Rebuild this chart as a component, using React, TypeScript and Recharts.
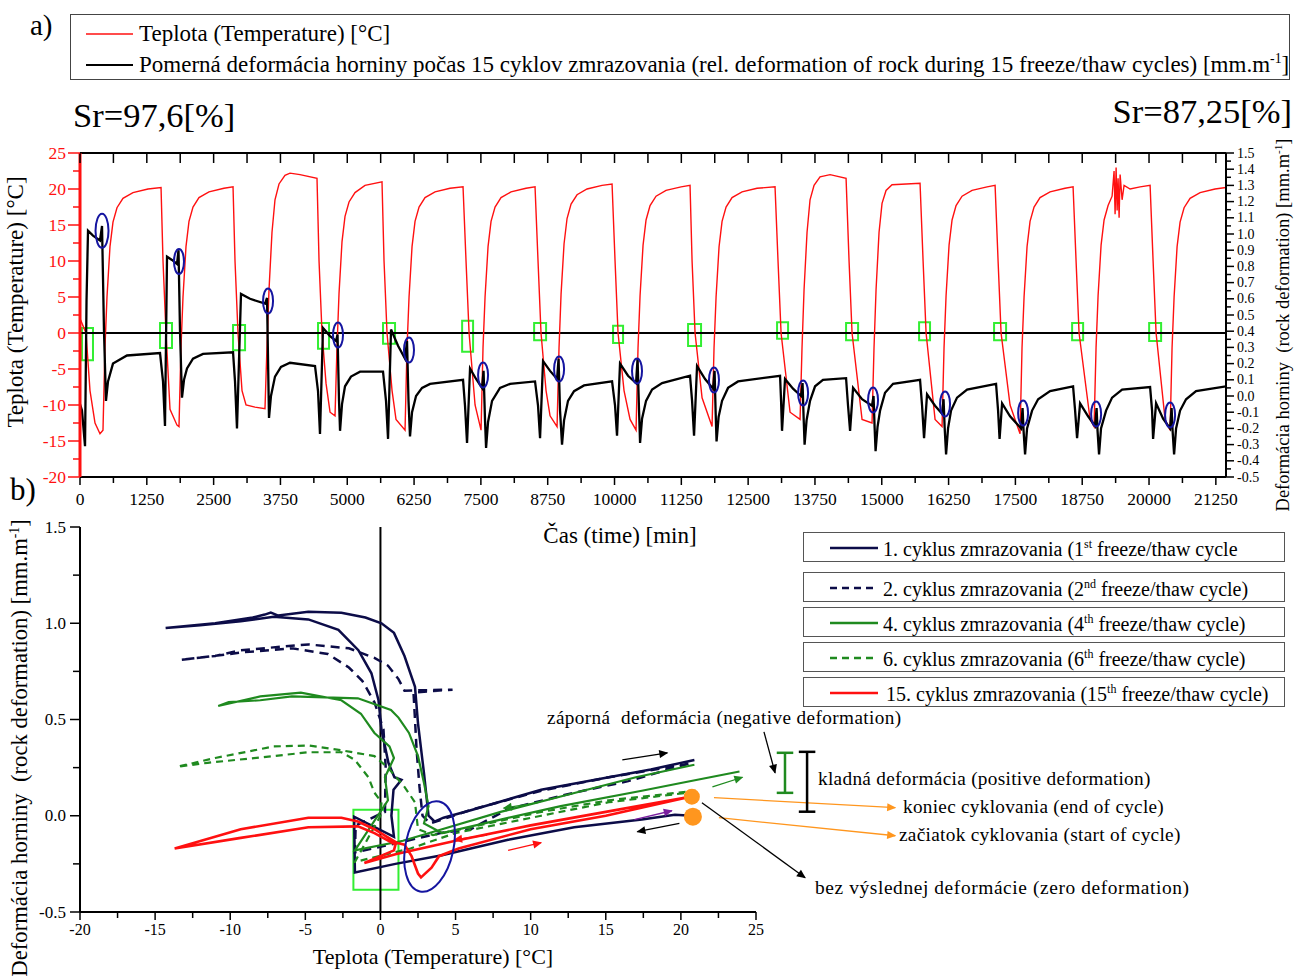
import React from 'react';
import { LineChart, Line, XAxis, YAxis, ReferenceLine, ReferenceArea, ReferenceDot } from 'recharts';

const FONT = '"Liberation Serif", "Times New Roman", Times, serif';
const NAVY = '#0c0c48';
const GREEN = '#1f8a1f';
const RED = '#ff1010';
const LIME = '#33ee33';
const BLUE = '#1515a0';
const ORANGE = '#ff961e';

// ---------- (a) time series ----------
const timeTicks = [0,625,1250,1875,2500,3125,3750,4375,5000,5625,6250,6875,7500,8125,8750,9375,10000,10625,11250,11875,12500,13125,13750,14375,15000,15625,16250,16875,17500,18125,18750,19375,20000,20625,21250];
const tempTicks = [-20,-17.5,-15,-12.5,-10,-7.5,-5,-2.5,0,2.5,5,7.5,10,12.5,15,17.5,20,22.5,25];
const deformTicks = [-0.5,-0.45,-0.4,-0.35,-0.3,-0.25,-0.2,-0.15,-0.1,-0.05,0,0.05,0.1,0.15,0.2,0.25,0.3,0.35,0.4,0.45,0.5,0.55,0.6,0.65,0.7,0.75,0.8,0.85,0.9,0.95,1,1.05,1.1,1.15,1.2,1.25,1.3,1.35,1.4,1.45,1.5];

const temperature: [number, number][] = [
  [0,2],[112,0],[187,-8],[281,-12.5],[374,-14],[430,-13.5],
  [467,-2],[505,5],[561,12],[617,15.4],[692,17.4],[804,18.7],[991,19.5],[1272,20.0],[1516,20.2],
  [1553,10],[1609,0],[1684,-10.6],[1815,-12.8],[1852,-13],
  [1889,-2],[1927,5],[1983,12],[2039,15.5],[2114,17.5],[2226,18.8],[2413,19.6],[2694,20.1],[2863,20.3],
  [2900,10],[2956,0],[3031,-8],[3106,-10],[3274,-10.3],[3461,-10.5],
  [3498,-2],[3536,6],[3592,14],[3648,18.5],[3723,20.7],[3835,21.9],[3929,22.2],[4116,22],[4434,21.5],
  [4472,10],[4528,0],[4603,-7],[4678,-11],[4771,-11.5],
  [4808,-2],[4846,5.5],[4902,12.7],[4958,16.2],[5033,18.2],[5145,19.5],[5332,20.5],[5650,21],
  [5688,10],[5744,0],[5838,-8],[5912,-12],[6081,-13.5],
  [6118,-2],[6156,5],[6212,12],[6268,15.5],[6343,17.5],[6455,18.8],[6642,19.6],[6923,20.1],[7166,20.3],
  [7222,10],[7279,0],[7391,-10],[7503,-13.5],
  [7540,-2],[7578,5],[7634,12],[7690,15.5],[7765,17.5],[7877,18.8],[8064,19.6],[8345,20.1],[8513,20.3],
  [8569,10],[8625,0],[8719,-8],[8794,-11.5],[8925,-13],
  [8962,-2],[9000,5.4],[9056,12.4],[9112,15.9],[9187,17.9],[9299,19.2],[9486,20],[9767,20.5],[9954,20.7],
  [10010,10],[10066,0],[10178,-8],[10291,-12],[10403,-13.5],
  [10440,-2],[10478,5.2],[10534,12.2],[10590,15.7],[10665,17.7],[10777,19],[10964,19.8],[11245,20.3],[11413,20.5],
  [11451,10],[11507,0],[11638,-9],[11825,-13],
  [11862,-2],[11900,5],[11956,12],[12012,15.5],[12087,17.5],[12199,18.8],[12386,19.6],[12667,20.1],[13003,20.3],
  [13059,10],[13116,0],[13284,-11],[13471,-12],
  [13508,-2],[13546,6],[13602,14],[13658,18.5],[13733,20.5],[13845,21.7],[14033,22],[14332,21.5],
  [14388,10],[14444,0],[14631,-12],[14818,-12.5],
  [14855,-2],[14893,6],[14949,14],[15005,18],[15080,19.8],[15192,20.6],[15716,20.8],
  [15773,10],[15829,0],[15997,-12],[16128,-13],
  [16165,-2],[16203,5.2],[16259,12.2],[16315,15.7],[16390,17.7],[16502,19],[16689,19.8],[16970,20.3],[17120,20.5],
  [17176,10],[17232,0],[17400,-10],[17587,-14],
  [17624,-2],[17662,5],[17718,12],[17774,15.5],[17849,17.5],[17961,18.8],[18148,19.6],[18429,20.1],[18579,20.3],
  [18635,10],[18691,0],[18897,-12],[18972,-13],
  [19009,-2],[19047,5.2],[19103,12.2],[19159,15.7],[19234,17.7],[19309,19],[19346,22.5],[19365,16.5],[19384,23],[19403,17],[19421,21.5],[19440,16],[19459,22],[19496,18.5],[19533,20.5],[19646,20],[19833,20.3],[20020,20.5],
  [20076,10],[20132,0],[20300,-12],[20394,-13.5],
  [20431,-2],[20469,5],[20525,12],[20581,15.4],[20656,17.4],[20768,18.7],[20955,19.5],[21236,20],[21440,20.2],
];

const deformation: [number, number][] = [
  [0,-0.05],[37,-0.09],[94,-0.31],[122,0.59],[150,1.02],[243,0.99],[374,0.96],[412,1.05],[449,0.4],[486,-0.03],[524,0.09],[617,0.2],[879,0.25],[1497,0.265],
  [1553,0.09],[1590,-0.185],[1628,0.86],[1721,0.84],[1815,0.815],[1843,0.9],[1871,0.4],[1908,-0.01],[1946,0.1],[2002,0.17],[2114,0.23],[2301,0.26],[2863,0.27],
  [2900,0.09],[2937,-0.2],[3012,0.63],[3181,0.6],[3461,0.57],[3499,0.605],[3518,0.22],[3536,-0.135],[3573,0.0],[3648,0.12],[3760,0.18],[3929,0.205],[4397,0.185],
  [4453,0.03],[4490,-0.235],[4546,0.42],[4678,0.37],[4790,0.34],[4818,0.38],[4846,-0.03],[4865,-0.215],[4902,-0.05],[4958,0.06],[5070,0.12],[5239,0.15],[5669,0.15],
  [5725,-0.03],[5763,-0.265],[5819,0.41],[5950,0.31],[6081,0.23],[6118,0.34],[6146,-0.03],[6174,-0.25],[6212,-0.1],[6287,0.0],[6399,0.05],[6549,0.075],[7166,0.1],
  [7203,-0.06],[7241,-0.29],[7297,0.17],[7410,0.105],[7522,0.05],[7550,0.155],[7578,-0.155],[7597,-0.32],[7634,-0.16],[7709,-0.03],[7858,0.05],[8046,0.075],[8513,0.09],
  [8569,-0.06],[8607,-0.26],[8663,0.215],[8794,0.155],[8925,0.105],[8953,0.23],[8981,-0.09],[9018,-0.3],[9056,-0.15],[9130,-0.03],[9243,0.03],[9430,0.065],[9954,0.09],
  [10010,-0.06],[10047,-0.245],[10103,0.2],[10253,0.125],[10403,0.08],[10431,0.23],[10459,-0.09],[10478,-0.29],[10515,-0.14],[10590,-0.03],[10703,0.04],[10890,0.08],[11413,0.125],
  [11451,-0.03],[11488,-0.245],[11544,0.185],[11694,0.105],[11844,0.045],[11872,0.155],[11891,-0.09],[11909,-0.28],[11947,-0.13],[12012,-0.03],[12124,0.05],[12311,0.09],[13097,0.125],
  [13116,-0.03],[13134,-0.215],[13190,0.105],[13340,0.045],[13490,0.0],[13518,0.08],[13537,-0.125],[13556,-0.3],[13593,-0.15],[13658,-0.03],[13752,0.06],[13900,0.1],[14332,0.11],
  [14369,-0.06],[14407,-0.215],[14463,0.05],[14631,-0.02],[14818,-0.06],[14846,0.0],[14865,-0.185],[14884,-0.34],[14921,-0.19],[14968,-0.09],[15061,0.02],[15211,0.075],[15716,0.1],
  [15754,-0.06],[15791,-0.26],[15847,0.01],[15997,-0.06],[16128,-0.11],[16156,-0.02],[16175,-0.185],[16203,-0.36],[16240,-0.2],[16296,-0.09],[16408,-0.01],[16596,0.04],[17138,0.075],
  [17176,-0.09],[17204,-0.265],[17251,-0.045],[17400,-0.125],[17606,-0.2],[17634,-0.075],[17653,-0.215],[17681,-0.36],[17718,-0.2],[17812,-0.09],[17925,-0.02],[18149,0.03],[18579,0.06],
  [18617,-0.09],[18654,-0.26],[18710,-0.045],[18860,-0.125],[18991,-0.185],[19019,-0.075],[19037,-0.215],[19065,-0.36],[19102,-0.2],[19196,-0.09],[19309,-0.01],[19496,0.04],[20020,0.055],
  [20057,-0.09],[20076,-0.265],[20132,-0.045],[20263,-0.14],[20394,-0.2],[20422,-0.075],[20441,-0.215],[20469,-0.36],[20506,-0.2],[20581,-0.09],[20693,-0.02],[20880,0.03],[21440,0.06],
];

// freezing-point boxes: [t1, t2, T1, T2]
const freezeBoxes: [number, number, number, number][] = [
  [37,243,0.7,-3.8],[1497,1721,1.4,-2.1],[2863,3088,1.1,-2.4],[4453,4659,1.4,-2.2],[5669,5894,1.4,-1.5],
  [7149,7354,1.7,-2.6],[8496,8720,1.4,-1.0],[9973,10160,1.0,-1.4],[11376,11619,1.25,-1.8],[13041,13247,1.5,-0.8],
  [14332,14557,1.4,-1.0],[15698,15903,1.5,-1.0],[17101,17326,1.4,-1.0],[18561,18767,1.4,-1.0],[20002,20226,1.4,-1.1],
];
// thaw marks on deformation: [t, d]
const thawMarks: [number, number][] = [
  [412,1.02],[1852,0.83],[3518,0.586],[4827,0.377],[6155,0.284],[7541,0.13],[8963,0.167],[10421,0.154],
  [11861,0.099],[13528,0.019],[14837,-0.025],[16184,-0.049],[17644,-0.105],[19010,-0.111],[20394,-0.117],
];

// ---------- (b) hysteresis loops ----------
const bTempTicks = [-20,-17.5,-15,-12.5,-10,-7.5,-5,-2.5,0,2.5,5,7.5,10,12.5,15,17.5,20,22.5,25];
const bDefTicks = [-0.5,-0.25,0,0.25,0.5,0.75,1,1.25,1.5];

const cycle1: [number, number][] = [
  [20.7,0.0],[19.6,0.005],[17.4,-0.02],[12.9,-0.06],[8.5,-0.125],[4.1,-0.205],[1.0,-0.25],[-1.7,-0.295],
  [-1.75,-0.005],[0.9,-0.11],[0.73,0.0],[0.87,0.135],[1.4,0.187],[0.93,0.2],[0.53,0.275],[0.07,0.447],[-0.13,0.6],[-0.6,0.74],[-1.47,0.86],[-2.8,0.966],[-4.8,1.02],[-7.1,1.034],[-9.3,1.01],[-12,0.99],[-14.3,0.975],
  [-11,1.0],[-8.5,1.03],[-7.7,1.045],[-7.3,1.055],[-6.8,1.04],[-4.8,1.06],[-2.6,1.055],[-1,1.03],[0.07,1.0],[0.9,0.95],[1.6,0.83],[2.3,0.67],[2.5,0.48],[2.9,0.22],[3.2,0.0],[3.6,-0.03],[4.2,-0.01],[6.07,0.03],[10.7,0.135],[15.2,0.2],[18,0.24],[20.9,0.29],
];
const cycle2: [number, number][] = [
  [20.5,0.27],[16.5,0.18],[12.9,0.12],[8.5,0.035],[6.0,-0.07],[4.0,-0.09],[1.2,-0.14],[-0.5,-0.17],[-1.7,-0.19],
  [-1.65,-0.05],[0.3,0.02],[0.35,0.25],[0.2,0.45],[-0.4,0.59],[-1.2,0.7],[-2.1,0.77],[-3.5,0.84],[-5.9,0.87],[-9,0.85],[-13.3,0.81],
  [-11,0.83],[-9.3,0.86],[-4.8,0.89],[-2.1,0.87],[-0.4,0.82],[0.5,0.78],[1.2,0.71],[1.6,0.65],[4.8,0.655],[2.2,0.64],[2.3,0.5],[2.4,0.35],[2.6,0.15],[2.8,0.0],[3.3,-0.04],[6,0.03],[10.7,0.13],[15.2,0.2],[20.5,0.27],
];
const cycle4: [number, number][] = [
  [20.9,0.265],[17,0.2],[12,0.1],[8,0.02],[4.1,-0.07],[1.5,-0.13],[-1.7,-0.18],
  [0.5,0.08],[0.3,0.2],[0.9,0.3],[0.6,0.36],[-0.4,0.43],[-1.3,0.53],[-2.6,0.6],[-5.3,0.64],[-8,0.62],[-10.8,0.57],
  [-10.1,0.59],[-8,0.6],[-5.9,0.62],[-1.5,0.61],[0.7,0.55],[1.2,0.51],[1.9,0.43],[2.5,0.31],[2.9,0.17],[3.2,0.05],[2.9,-0.04],[4.1,-0.09],[8,-0.02],[12,0.05],[17.4,0.13],[20,0.17],[23.9,0.23],
];
const cycle6: [number, number][] = [
  [21,0.125],[15.2,0.07],[10.7,0.0],[5,-0.09],[2,-0.17],[-1.7,-0.24],
  [0.0,0.0],[0.07,0.07],[-0.4,0.12],[-0.8,0.2],[-1.7,0.29],[-2.6,0.33],[-4.8,0.33],[-7.1,0.31],[-11.5,0.275],[-13.5,0.255],
  [-11,0.3],[-7.1,0.36],[-4.8,0.365],[-2.6,0.34],[-0.4,0.31],[0.5,0.25],[1.6,0.15],[2.3,0.07],[2.5,-0.07],[3.5,-0.1],[6,-0.06],[10.7,0.02],[15.2,0.08],[21,0.13],
];
const cycle15: [number, number][] = [
  [20.7,0.1],[15,0.02],[10,-0.05],[5,-0.13],[1,-0.2],[-1.07,-0.245],
  [0.9,-0.18],[1.0,-0.15],[-0.4,-0.09],[-1.5,-0.055],[-4.8,-0.06],[-9.3,-0.115],[-13.7,-0.17],
  [-9.3,-0.07],[-4.8,-0.01],[-2.6,-0.01],[-1.5,-0.03],[-0.4,-0.07],[1.07,-0.14],[1.6,-0.15],[2.07,-0.21],[2.5,-0.3],[2.7,-0.32],[3.4,-0.27],[3.9,-0.21],[5.2,-0.17],[10,-0.07],[15,0.0],[20.7,0.1],
];

// annotation arrows in (b) data coordinates: [T1, d1, T2, d2]
const dirArrows: { seg: [number, number, number, number]; color: string; id: string }[] = [
  { seg: [16.1, 0.29, 19.1, 0.327], color: '#000', id: 'ah-black' },
  { seg: [19.9, -0.04, 17.1, -0.083], color: '#000', id: 'ah-black' },
  { seg: [10.5, 0.068, 8.2, 0.04], color: GREEN, id: 'ah-green' },
  { seg: [22.1, 0.15, 24.1, 0.2], color: GREEN, id: 'ah-green' },
  { seg: [7.1, -0.1, 4.9, -0.125], color: RED, id: 'ah-red' },
  { seg: [8.5, -0.18, 10.7, -0.14], color: RED, id: 'ah-red' },
  { seg: [16.9, -0.02, 19.4, 0.026], color: '#7a1fa0', id: 'ah-purple' },
];
const noteArrows: { seg: [number, number, number, number]; color: string; id: string }[] = [
  { seg: [25.53, 0.436, 26.27, 0.223], color: '#000', id: 'ah-black' },
  { seg: [22.2, 0.094, 34.27, 0.042], color: ORANGE, id: 'ah-orange' },
  { seg: [22.53, -0.01, 34.27, -0.104], color: ORANGE, id: 'ah-orange' },
  { seg: [21.4, 0.068, 28.27, -0.322], color: '#000', id: 'ah-black' },
];
// I-bars: [T, d1, d2]
const iBars: { v: [number, number, number]; color: string }[] = [
  { v: [26.93, 0.119, 0.327], color: GREEN },
  { v: [28.4, 0.021, 0.332], color: '#000' },
];
const cycleEnds: [number, number][] = [[20.73, 0.099], [20.8, -0.005]];

const toObj = (arr: [number, number][], kx: string, ky: string) => arr.map(([a, b]) => ({ [kx]: a, [ky]: b }));

type TickOpts = {
  side: 'left' | 'right' | 'bottom' | 'top';
  color: string;
  isMajor: (v: number) => boolean;
  majorLen: number;
  minorLen: number;
  label: (v: number) => string;
  fontSize: number;
  gap: number;
};
const makeTick = (o: TickOpts) => (p: any) => {
  const x = Number(p.x);
  const y = Number(p.y);
  const v = Number(p.payload.value);
  const major = o.isMajor(v);
  const len = major ? o.majorLen : o.minorLen;
  const common = { fill: o.color, fontSize: o.fontSize, fontFamily: FONT } as any;
  if (o.side === 'left') {
    return (
      <g>
        <line x1={x} y1={y} x2={x - len} y2={y} stroke={o.color} strokeWidth={1.5} />
        {major && <text x={x - o.majorLen - o.gap} y={y} textAnchor="end" dominantBaseline="central" {...common}>{o.label(v)}</text>}
      </g>
    );
  }
  if (o.side === 'right') {
    return (
      <g>
        <line x1={x} y1={y} x2={x + len} y2={y} stroke={o.color} strokeWidth={1.5} />
        {major && <text x={x + o.majorLen + o.gap} y={y} textAnchor="start" dominantBaseline="central" {...common}>{o.label(v)}</text>}
      </g>
    );
  }
  if (o.side === 'bottom') {
    return (
      <g>
        <line x1={x} y1={y} x2={x} y2={y + len} stroke={o.color} strokeWidth={1.5} />
        {major && <text x={x} y={y + o.majorLen + o.gap} textAnchor="middle" dominantBaseline="hanging" {...common}>{o.label(v)}</text>}
      </g>
    );
  }
  return (
    <g>
      <line x1={x} y1={y} x2={x} y2={y + len} stroke={o.color} strokeWidth={1.5} />
    </g>
  );
};

const Txt = ({ x, y, size, children, anchor = 'start', rotate = false, color = '#000', spacing = 0 }: any) => {
  let transform = 'translateY(-50%)';
  if (anchor === 'middle') transform = 'translate(-50%,-50%)';
  if (anchor === 'end') transform = 'translate(-100%,-50%)';
  if (rotate) transform = 'translate(-50%,-50%) rotate(-90deg)';
  return (
    <div style={{ position: 'absolute', left: x, top: y, transform, fontFamily: FONT, fontSize: size, lineHeight: 1.05, whiteSpace: 'nowrap', color, letterSpacing: spacing }}>
      {children}
    </div>
  );
};
const Sup = ({ children }: any) => <span style={{ fontSize: '0.6em', verticalAlign: 'super', lineHeight: 0 }}>{children}</span>;

const legendB = [
  { label: <>1. cyklus zmrazovania (1<Sup>st</Sup> freeze/thaw cycle</>, color: NAVY, dash: undefined as string | undefined, top: 532 },
  { label: <>2. cyklus zmrazovania (2<Sup>nd</Sup> freeze/thaw cycle)</>, color: NAVY, dash: '7 5', top: 572 },
  { label: <>4. cyklus zmrazovania (4<Sup>th</Sup> freeze/thaw cycle)</>, color: GREEN, dash: undefined, top: 607 },
  { label: <>6. cyklus zmrazovania (6<Sup>th</Sup> freeze/thaw cycle)</>, color: GREEN, dash: '7 5', top: 642 },
  { label: <>15. cyklus zmrazovania (15<Sup>th</Sup> freeze/thaw cycle)</>, color: RED, dash: undefined, top: 677 },
];

const arrowHead = (id: string, color: string) => (
  <marker key={id} id={id} viewBox="0 0 10 10" refX="9" refY="5" markerWidth="10" markerHeight="9" markerUnits="userSpaceOnUse" orient="auto">
    <path d="M0,0.5 L10,5 L0,9.5 z" fill={color} />
  </marker>
);

const segShape = (color: string, width: number, marker?: string) => (p: any) => (
  <line x1={p.x1} y1={p.y1} x2={p.x2} y2={p.y2} stroke={color} strokeWidth={width} markerEnd={marker ? `url(#${marker})` : undefined} />
);

export default function App() {
  const tempData = toObj(temperature, 't', 'v');
  const defData = toObj(deformation, 't', 'v');
  const c1 = toObj(cycle1, 'T', 'd');
  const c2 = toObj(cycle2, 'T', 'd');
  const c4 = toObj(cycle4, 'T', 'd');
  const c6 = toObj(cycle6, 'T', 'd');
  const c15 = toObj(cycle15, 'T', 'd');

  const leftTick = makeTick({ side: 'left', color: RED, isMajor: (v) => v % 5 === 0, majorLen: 12, minorLen: 7, label: (v) => String(v), fontSize: 17.5, gap: 2 });
  const rightTick = makeTick({ side: 'right', color: '#000', isMajor: (v) => Math.abs(Math.round(v * 100)) % 10 === 0, majorLen: 8, minorLen: 5, label: (v) => v.toFixed(1), fontSize: 14, gap: 3 });
  const bottomTick = makeTick({ side: 'bottom', color: '#000', isMajor: (v) => v % 1250 === 0, majorLen: 8, minorLen: 6, label: (v) => String(v), fontSize: 17.5, gap: 7 });
  const topTick = makeTick({ side: 'top', color: '#000', isMajor: () => true, majorLen: 10, minorLen: 10, label: () => '', fontSize: 15, gap: 0 });

  const bLeftTick = makeTick({ side: 'left', color: '#000', isMajor: (v) => Math.abs(Math.round(v * 100)) % 50 === 0, majorLen: 10, minorLen: 7, label: (v) => v.toFixed(1), fontSize: 17, gap: 4 });
  const bBottomTick = makeTick({ side: 'bottom', color: '#000', isMajor: (v) => v % 5 === 0, majorLen: 8, minorLen: 6, label: (v) => String(v), fontSize: 16, gap: 4 });

  return (
    <div style={{ position: 'absolute', left: 0, top: 0, width: 1296, height: 977, background: '#fff', overflow: 'hidden' }}>
      <svg width={0} height={0} style={{ position: 'absolute' }}>
        <defs>
          {arrowHead('ah-black', '#000')}
          {arrowHead('ah-green', GREEN)}
          {arrowHead('ah-red', RED)}
          {arrowHead('ah-orange', ORANGE)}
          {arrowHead('ah-purple', '#7a1fa0')}
        </defs>
      </svg>

      {/* (a) chart */}
      <div style={{ position: 'absolute', left: 0, top: 0 }}>
        <LineChart width={1296} height={520} margin={{ top: 143, right: 20, bottom: 13, left: 20 }}>
          <XAxis xAxisId={0} type="number" dataKey="t" domain={[0, 21440]} allowDataOverflow ticks={timeTicks} interval={0}
            tick={bottomTick} tickLine={false} tickSize={0} tickMargin={0} height={30} axisLine={{ stroke: '#000', strokeWidth: 2 }} />
          <XAxis xAxisId="top" orientation="top" type="number" dataKey="t" domain={[0, 21440]} allowDataOverflow ticks={timeTicks} interval={0}
            tick={topTick} tickLine={false} tickSize={0} tickMargin={0} height={10} axisLine={{ stroke: '#000', strokeWidth: 2 }} />
          <YAxis yAxisId="left" type="number" domain={[-20, 25]} allowDataOverflow ticks={tempTicks} interval={0}
            tick={leftTick} tickLine={false} tickSize={0} tickMargin={0} width={60} axisLine={{ stroke: RED, strokeWidth: 3 }} />
          <YAxis yAxisId="right" orientation="right" type="number" domain={[-0.5, 1.5]} allowDataOverflow ticks={deformTicks} interval={0}
            tick={rightTick} tickLine={false} tickSize={0} tickMargin={0} width={50} axisLine={{ stroke: '#000', strokeWidth: 2 }} />
          <ReferenceLine yAxisId="left" y={0} stroke="#000" strokeWidth={2.2} />
          <Line yAxisId="left" data={tempData} dataKey="v" type="linear" stroke={RED} strokeWidth={1.4} dot={false} activeDot={false} isAnimationActive={false} />
          <Line yAxisId="right" data={defData} dataKey="v" type="linear" stroke="#000" strokeWidth={2.3} dot={false} activeDot={false} isAnimationActive={false} />
          {freezeBoxes.map(([t1, t2, a, b], i) => (
            <ReferenceArea key={'fb' + i} yAxisId="left" x1={t1} x2={t2} y1={b} y2={a} fill="none" fillOpacity={0} stroke={LIME} strokeWidth={2} ifOverflow="visible" />
          ))}
          {thawMarks.map(([t, d], i) => (
            <ReferenceDot key={'tm' + i} yAxisId="right" x={t} y={d} r={5} ifOverflow="visible"
              shape={(p: any) => <ellipse cx={p.cx} cy={p.cy} rx={i === 0 ? 6.5 : 5} ry={i === 0 ? 17 : 12.5} fill="none" stroke={BLUE} strokeWidth={2} />} />
          ))}
        </LineChart>
      </div>

      {/* (b) chart */}
      <div style={{ position: 'absolute', left: 0, top: 500 }}>
        <LineChart width={1296} height={477} margin={{ top: 27, right: 540, bottom: 25, left: 20 }}>
          <XAxis type="number" dataKey="T" domain={[-20, 25]} allowDataOverflow ticks={bTempTicks} interval={0}
            tick={bBottomTick} tickLine={false} tickSize={0} tickMargin={0} height={40} axisLine={{ stroke: '#000', strokeWidth: 2 }} />
          <YAxis type="number" domain={[-0.5, 1.5]} allowDataOverflow ticks={bDefTicks} interval={0}
            tick={bLeftTick} tickLine={false} tickSize={0} tickMargin={0} width={60} axisLine={{ stroke: '#000', strokeWidth: 2 }} />
          <ReferenceLine x={0} stroke="#000" strokeWidth={2} />
          <Line data={c1} dataKey="d" type="linear" stroke={NAVY} strokeWidth={2.5} dot={false} activeDot={false} isAnimationActive={false} />
          <Line data={c2} dataKey="d" type="linear" stroke={NAVY} strokeWidth={2.5} strokeDasharray="9 6" dot={false} activeDot={false} isAnimationActive={false} />
          <Line data={c4} dataKey="d" type="linear" stroke={GREEN} strokeWidth={2.2} dot={false} activeDot={false} isAnimationActive={false} />
          <Line data={c6} dataKey="d" type="linear" stroke={GREEN} strokeWidth={2.2} strokeDasharray="7 5" dot={false} activeDot={false} isAnimationActive={false} />
          <Line data={c15} dataKey="d" type="linear" stroke={RED} strokeWidth={2.6} dot={false} activeDot={false} isAnimationActive={false} />
          <ReferenceArea x1={-1.8} x2={1.2} y1={-0.384} y2={0.031} fill="none" fillOpacity={0} stroke={LIME} strokeWidth={2} ifOverflow="visible" />
          <ReferenceDot x={3.27} y={-0.16} r={5} ifOverflow="visible"
            shape={(p: any) => <ellipse cx={p.cx} cy={p.cy} rx={24} ry={46} transform={`rotate(12 ${p.cx} ${p.cy})`} fill="none" stroke={BLUE} strokeWidth={2} />} />
          {cycleEnds.map(([T, d], i) => (
            <ReferenceDot key={'ce' + i} x={T} y={d} r={i === 0 ? 8 : 9} fill={ORANGE} stroke="none" ifOverflow="visible" />
          ))}
          {dirArrows.map((a, i) => (
            <ReferenceLine key={'da' + i} segment={[{ x: a.seg[0], y: a.seg[1] }, { x: a.seg[2], y: a.seg[3] }]} ifOverflow="visible"
              stroke={a.color} strokeWidth={1.3} shape={segShape(a.color, 1.3, a.id)} />
          ))}
          {noteArrows.map((a, i) => (
            <ReferenceLine key={'na' + i} segment={[{ x: a.seg[0], y: a.seg[1] }, { x: a.seg[2], y: a.seg[3] }]} ifOverflow="visible"
              stroke={a.color} strokeWidth={1.3} shape={segShape(a.color, 1.3, a.id)} />
          ))}
          {iBars.map((b, i) => [
            <ReferenceLine key={'ib' + i} segment={[{ x: b.v[0], y: b.v[1] }, { x: b.v[0], y: b.v[2] }]} ifOverflow="visible" stroke={b.color} strokeWidth={2.5} shape={segShape(b.color, 2.5)} />,
            <ReferenceLine key={'ibt' + i} segment={[{ x: b.v[0] - 0.55, y: b.v[2] }, { x: b.v[0] + 0.55, y: b.v[2] }]} ifOverflow="visible" stroke={b.color} strokeWidth={2.5} shape={segShape(b.color, 2.5)} />,
            <ReferenceLine key={'ibb' + i} segment={[{ x: b.v[0] - 0.55, y: b.v[1] }, { x: b.v[0] + 0.55, y: b.v[1] }]} ifOverflow="visible" stroke={b.color} strokeWidth={2.5} shape={segShape(b.color, 2.5)} />,
          ])}
        </LineChart>
      </div>

      {/* (a) legend & labels */}
      <Txt x={30} y={25} size={29}>a)</Txt>
      <div style={{ position: 'absolute', left: 70, top: 14, width: 1220, height: 66, border: '1px solid #444', boxSizing: 'border-box' }} />
      <svg style={{ position: 'absolute', left: 84, top: 28 }} width={52} height={44}>
        <line x1={2} y1={6} x2={49} y2={6} stroke={RED} strokeWidth={1.5} />
        <line x1={2} y1={37} x2={49} y2={37} stroke="#000" strokeWidth={2} />
      </svg>
      <Txt x={139} y={34} size={23}>Teplota (Temperature) [°C]</Txt>
      <Txt x={139} y={65} size={23}>Pomerná deformácia horniny počas 15 cyklov zmrazovania (rel. deformation of rock during 15 freeze/thaw cycles) [mm.m<Sup>-1</Sup>]</Txt>
      <Txt x={73} y={115} size={34.5}>Sr=97,6[%]</Txt>
      <Txt x={1292} y={111} size={34.5} anchor="end">Sr=87,25[%]</Txt>
      <Txt x={16} y={302} size={23} rotate>Teplota (Temperature) [°C]</Txt>
      <Txt x={1284} y={325} size={18.5} rotate>Deformácia horniny&nbsp; (rock deformation) [mm.m<Sup>-1</Sup>]</Txt>
      <Txt x={620} y={536} size={23} anchor="middle">Čas (time) [min]</Txt>

      {/* (b) labels */}
      <Txt x={10} y={490} size={31}>b)</Txt>
      <Txt x={20} y={748} size={22.7} rotate>Deformácia horniny&nbsp; (rock deformation) [mm.m<Sup>-1</Sup>]</Txt>
      <Txt x={433} y={957} size={22} anchor="middle">Teplota (Temperature) [°C]</Txt>

      {legendB.map((l, i) => (
        <React.Fragment key={'lb' + i}>
          <div style={{ position: 'absolute', left: 803, top: l.top, width: 482, height: 30, border: '1px solid #555', boxSizing: 'border-box' }} />
          <svg style={{ position: 'absolute', left: 828, top: l.top + 12 }} width={52} height={8}>
            <line x1={2} y1={4} x2={50} y2={4} stroke={l.color} strokeWidth={2.5} strokeDasharray={l.dash} />
          </svg>
          <Txt x={i === 4 ? 886 : 883} y={l.top + 17} size={20}>{l.label}</Txt>
        </React.Fragment>
      ))}

      <Txt x={547} y={718} size={19.2} spacing={0.4}>záporná&nbsp; deformácia (negative deformation)</Txt>
      <Txt x={818} y={779} size={19.3} spacing={0.3}>kladná deformácia (positive deformation)</Txt>
      <Txt x={903} y={807} size={19.2} spacing={0.3}>koniec cyklovania (end of cycle)</Txt>
      <Txt x={899} y={835} size={19.3} spacing={0.3}>začiatok cyklovania (start of cycle)</Txt>
      <Txt x={815} y={888} size={19.4} spacing={0.6}>bez výslednej deformácie (zero deformation)</Txt>
    </div>
  );
}
